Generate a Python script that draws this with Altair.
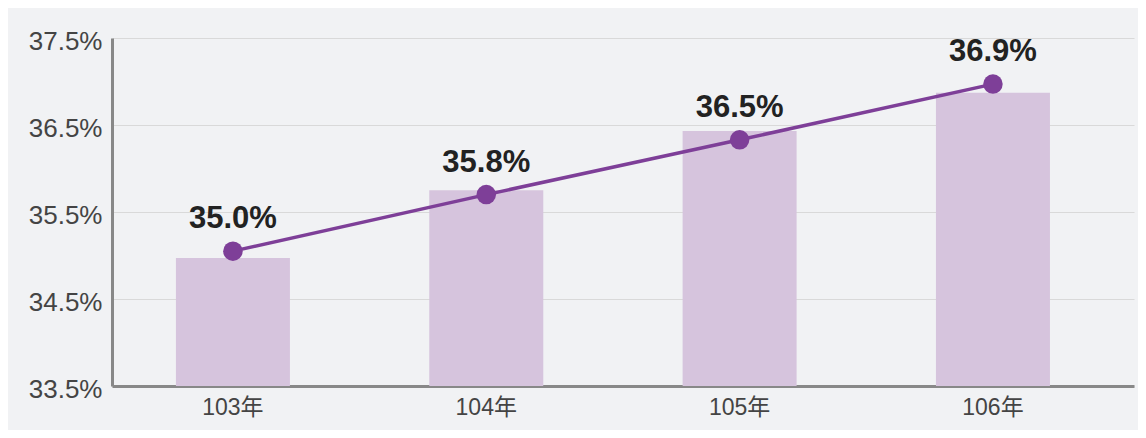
import altair as alt
import pandas as pd

years = ["103年", "104年", "105年", "106年"]
bar_values = [34.97, 35.75, 36.43, 36.87]
line_values = [35.05, 35.70, 36.33, 36.97]
labels = ["35.0%", "35.8%", "36.5%", "36.9%"]
y_ticks = [33.5, 34.5, 35.5, 36.5, 37.5]

df = pd.DataFrame({"year": years, "bar": bar_values, "line": line_values, "label": labels})

FONT = "Liberation Sans, Noto Sans CJK TC, sans-serif"

x = alt.X("year:N", sort=years, title=None,
          scale=alt.Scale(paddingInner=0.55, paddingOuter=0.292, align=0.432),
          axis=alt.Axis(labelAngle=0, labelFontSize=23, labelColor="#444444", labelFont=FONT,
                        labelPadding=10, ticks=False, domainColor="#888888", domainWidth=3,
                        grid=False))
yscale = alt.Scale(domain=[33.5, 37.5], zero=False, nice=False)
yaxis = alt.Axis(values=y_ticks, labelExpr="format(datum.value, '.1f') + '%'",
                 labelFontSize=26, labelColor="#444444", labelFont=FONT, labelPadding=10,
                 labelOffset=3, ticks=False, domainColor="#888888", domainWidth=3,
                 grid=True, gridColor="#d9d9d9", gridWidth=1)

base = alt.Chart(df)

bars = base.mark_bar(color="#d6c4dd").encode(
    x=x,
    y=alt.Y("bar:Q", scale=yscale, axis=yaxis, title=None),
    y2=alt.datum(33.5),
)

line = base.mark_line(color="#7e3f98", strokeWidth=3.5).encode(
    x=x, y=alt.Y("line:Q", scale=yscale)
)
points = base.mark_circle(color="#7e3f98", size=380, opacity=1).encode(
    x=x, y=alt.Y("line:Q", scale=yscale)
)
text = base.mark_text(font=FONT, fontSize=31, fontWeight="bold", color="#222222",
                      baseline="alphabetic", dy=-23).encode(
    x=x, y=alt.Y("line:Q", scale=yscale), text="label:N"
)

chart = alt.layer(bars, line, points, text).properties(
    width=1022, height=348,
    background="#f1f2f4",
    padding={"left": 104, "top": 30, "right": 4, "bottom": 44},
    autosize=alt.AutoSizeParams(type="none"),
).configure_view(stroke=None)

chart.save("out.html", embed_options={"renderer": "svg", "actions": False})
